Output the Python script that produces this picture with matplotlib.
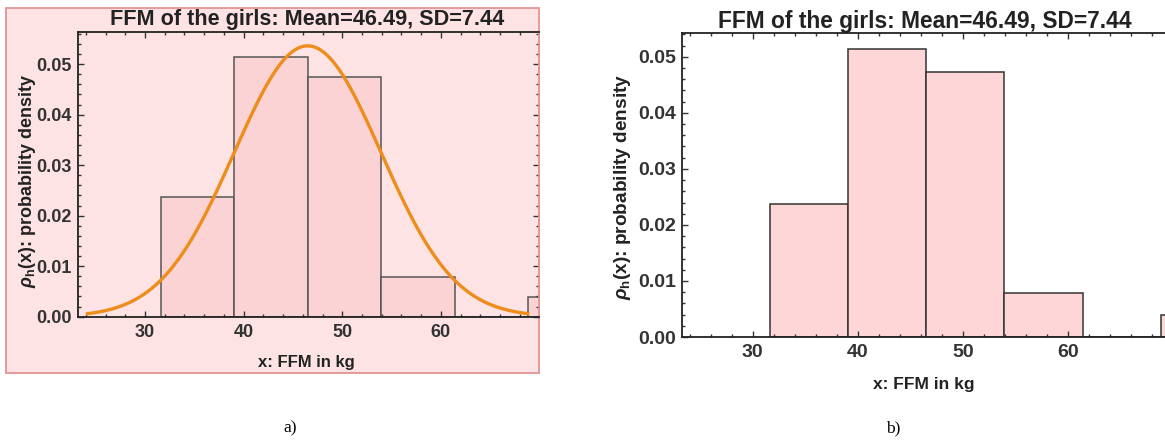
import numpy as np
import matplotlib.pyplot as plt
from matplotlib.patches import Rectangle
from matplotlib.ticker import MultipleLocator

# FFM sample of the girls, histogram bins (kg) and counts per bin
bin_edges = [31.6, 39.05, 46.5, 53.95, 61.4, 68.85, 76.3]
bin_counts = [6, 13, 12, 2, 0, 1]
mean_ffm = 46.49
sd_ffm = 7.44

title = "FFM of the girls: Mean=46.49, SD=7.44"
xlab = "x: FFM in kg"
ylab = r"$\rho_\mathrm{h}$(x): probability density"

plt.rcParams['font.family'] = ['Liberation Sans', 'DejaVu Sans']
plt.rcParams['font.weight'] = 'bold'
plt.rcParams['mathtext.fontset'] = 'custom'
plt.rcParams['mathtext.it'] = 'Liberation Sans:italic:bold'
plt.rcParams['mathtext.rm'] = 'Liberation Sans:bold'

W, H = 1165, 440
fig = plt.figure(figsize=(W / 100, H / 100), dpi=100)
fig.patch.set_facecolor('white')


def fx(px):
    return px / W


def fy(py):
    return 1 - py / H


n = sum(bin_counts)
lefts = np.array(bin_edges[:-1])
widths = np.diff(bin_edges)
dens = np.array(bin_counts) / (n * widths)


def style(ax, fs, pad_y, pad_x):
    for s in ax.spines.values():
        s.set_color('#222222')
        s.set_linewidth(1.3)
    ax.xaxis.set_major_locator(MultipleLocator(10))
    ax.xaxis.set_minor_locator(MultipleLocator(2))
    ax.yaxis.set_major_locator(MultipleLocator(0.01))
    ax.yaxis.set_minor_locator(MultipleLocator(0.002))
    ax.tick_params(which='both', direction='in', top=True, right=True,
                   color='#333333', width=1)
    ax.tick_params(which='major', length=4.5)
    ax.tick_params(which='minor', length=2.5)
    ax.tick_params(axis='y', pad=pad_y, labelsize=fs, labelcolor='#333333')
    ax.tick_params(axis='x', pad=pad_x, labelsize=fs, labelcolor='#333333')
    ax.yaxis.set_major_formatter(plt.FuncFormatter(lambda v, p: f"{v:.2f}"))
    for lb in ax.get_xticklabels() + ax.get_yticklabels():
        lb.set_fontweight('bold')


# a) histogram with the fitted normal density
frame = Rectangle((fx(6), fy(373)), fx(539 - 6), (373 - 8.3) / H,
                  transform=fig.transFigure, facecolor='#fde3e3',
                  edgecolor='#e39494', linewidth=1.3, zorder=-5)
fig.patches.append(frame)
ax1 = fig.add_axes([fx(78), fy(316.7), fx(539 - 78), (316.7 - 32.3) / H])
ax1.set_facecolor('#fde3e3')
ax1.bar(lefts, dens, width=widths, align='edge', color='#fbd3d5',
        edgecolor='#555555', linewidth=1.1)
xs = np.linspace(mean_ffm - 3 * sd_ffm, mean_ffm + 3 * sd_ffm, 300)
pdf = np.exp(-0.5 * ((xs - mean_ffm) / sd_ffm) ** 2) / (sd_ffm * np.sqrt(2 * np.pi))
ax1.plot(xs, pdf, color='#ee8c1c', lw=2.4)
ax1.set_xlim(23.2, 69.95)
ax1.set_ylim(0, 0.0563)
style(ax1, 13, 4.3, 5)
ax1.spines['right'].set_color('#e39494')

fig.text(fx(307), fy(19), title, ha='center', va='center', fontsize=15.6,
         fontweight='bold', color='#222222')
fig.text(fx(306), fy(362), xlab, ha='center', va='center', fontsize=12,
         fontweight='bold', color='#222222')
fig.text(fx(28), fy(181), ylab, ha='center', va='center', rotation=90,
         fontsize=13, fontweight='bold', color='#222222')

# b) histogram only
ax2 = fig.add_axes([fx(682.3), fy(337), fx(489.8), (337 - 33.3) / H])
ax2.bar(lefts, dens, width=widths, align='edge', color='#ffd6d8',
        edgecolor='#333333', linewidth=1.1)
ax2.set_xlim(23.3, 69.9)
ax2.set_ylim(0, 0.0542)
style(ax2, 14, 4.3, 5)

fig.text(fx(925), fy(21.7), title, ha='center', va='center', fontsize=16.4,
         fontweight='bold', color='#222222')
fig.text(fx(924), fy(384), xlab, ha='center', va='center', fontsize=12.5,
         fontweight='bold', color='#222222')
fig.text(fx(623), fy(187), ylab, ha='center', va='center', rotation=90,
         fontsize=13.7, fontweight='bold', color='#222222')

# panel captions
fig.text(fx(290), fy(428), "a)", ha='center', va='center', fontsize=12.5,
         fontweight='normal', family=['Liberation Serif'], color='black')
fig.text(fx(893), fy(428), "b)", ha='center', va='center', fontsize=12.5,
         fontweight='normal', family=['Liberation Serif'], color='black')

fig.savefig('out.png', dpi=100)
